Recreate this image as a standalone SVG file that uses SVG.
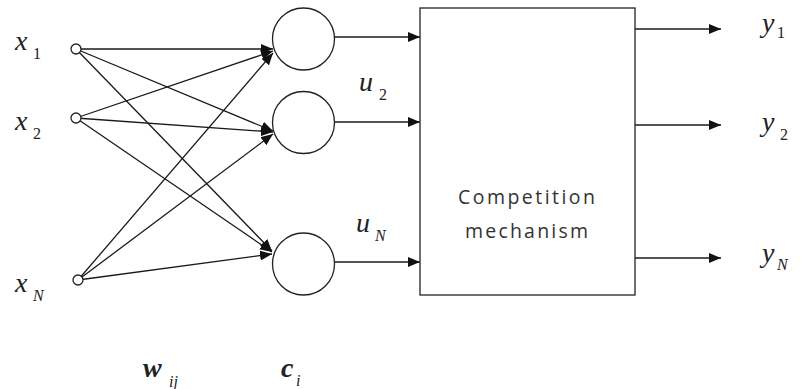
<svg xmlns="http://www.w3.org/2000/svg" width="803" height="389" viewBox="0 0 803 389">
<style>
.ln{stroke:#1a1a1a;stroke-width:1.3;fill:none}
.in{stroke:#222;stroke-width:1.3;fill:#fff}
.nd{stroke:#222;stroke-width:1.3;fill:#fff}
.lb{font-family:"Liberation Serif","Times New Roman",serif;font-style:italic;font-size:28px;fill:#222}
.sb{font-family:"Liberation Serif","Times New Roman",serif;font-size:16px;fill:#222}
.si{font-family:"Liberation Serif","Times New Roman",serif;font-style:italic;font-size:16px;fill:#222}
.bx{font-family:"Open Sans","DejaVu Sans",sans-serif;font-size:19.5px;fill:#333}
</style>
<defs>
<marker id="ah" markerUnits="userSpaceOnUse" markerWidth="13" markerHeight="10" refX="12" refY="5" orient="auto">
<path d="M0,0 L12,5 L0,10 z" fill="#111"/>
</marker>
</defs>
<rect width="803" height="389" fill="#fff"/>
<g id="connectors" class="ln" marker-end="url(#ah)">
<line x1="76" y1="49" x2="273" y2="49"/>
<line x1="76" y1="49" x2="273" y2="131"/>
<line x1="76" y1="49" x2="272" y2="251"/>
<line x1="76" y1="118" x2="273" y2="51"/>
<line x1="76" y1="118" x2="273" y2="132"/>
<line x1="76" y1="118" x2="272" y2="252"/>
<line x1="78" y1="280" x2="273" y2="53"/>
<line x1="78" y1="280" x2="273" y2="134"/>
<line x1="78" y1="280" x2="272" y2="254"/>
<line x1="335" y1="37" x2="420" y2="37"/>
<line x1="335" y1="122" x2="420" y2="122"/>
<line x1="335" y1="262" x2="420" y2="262"/>
<line x1="635" y1="29" x2="721" y2="29"/>
<line x1="635" y1="125" x2="721" y2="125"/>
<line x1="635" y1="258" x2="721" y2="258"/>
</g>
<g id="input-x1"><circle class="in" cx="76" cy="49" r="5"/><text class="lb" x="15" y="50">x</text><text class="sb" x="33" y="59">1</text></g>
<g id="input-x2"><circle class="in" cx="76" cy="118" r="5"/><text class="lb" x="15" y="130">x</text><text class="sb" x="33" y="139">2</text></g>
<g id="input-xN"><circle class="in" cx="78" cy="280" r="5"/><text class="lb" x="15" y="292">x</text><text class="si" x="33" y="301">N</text></g>
<g id="neuron-1"><circle class="nd" cx="303.5" cy="39" r="31"/></g>
<g id="neuron-2"><circle class="nd" cx="303.5" cy="122.5" r="31"/><text class="lb" x="359" y="91">u</text><text class="sb" x="379" y="100">2</text></g>
<g id="neuron-N"><circle class="nd" cx="303.5" cy="264" r="31"/><text class="lb" x="356" y="232">u</text><text class="si" x="375" y="241">N</text></g>
<g id="competition"><rect x="420" y="8" width="215" height="287" fill="#fff" stroke="#222" stroke-width="1.3"/>
<text class="bx" x="458" y="204" textLength="137" lengthAdjust="spacing">Competition</text>
<text class="bx" x="465" y="238" textLength="123" lengthAdjust="spacing">mechanism</text></g>
<g id="output-y1"><text class="lb" x="762" y="32">y</text><text class="sb" x="777" y="38">1</text></g>
<g id="output-y2"><text class="lb" x="762" y="131">y</text><text class="sb" x="780" y="140">2</text></g>
<g id="output-yN"><text class="lb" x="762" y="262">y</text><text class="si" x="777" y="270">N</text></g>
<g id="label-w"><text class="lb" x="143" y="377" font-weight="bold">w</text><text class="si" x="169" y="387">ij</text></g>
<g id="label-c"><text class="lb" x="281" y="377" font-weight="bold">c</text><text class="si" x="296" y="386">i</text></g>
</svg>
